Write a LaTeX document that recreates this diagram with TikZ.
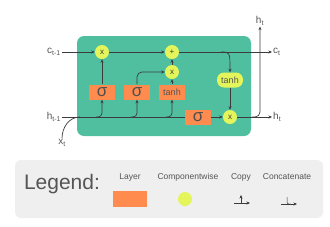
\documentclass[tikz,border=0pt]{standalone}
\usepackage{fontspec}
\setmainfont{Liberation Sans}
\usepackage{xcolor}
\definecolor{lstmTeal}{HTML}{4FBF9F}
\definecolor{lstmOrange}{HTML}{FF8B4E}
\definecolor{lstmYellow}{HTML}{E3F55A}
\definecolor{lstmLine}{HTML}{3C3C3C}
\definecolor{lstmText}{HTML}{555555}
\definecolor{lstmLegend}{HTML}{EFEFEF}
\usetikzlibrary{positioning,arrows.meta,calc}

\begin{document}
\begin{tikzpicture}[
      x=1pt, y=-1pt,
      every node/.style={text=lstmText},
      cell/.style={rectangle, rounded corners=7pt, fill=lstmTeal,
                   minimum width=174pt, minimum height=100pt},
      layer/.style={rectangle, fill=lstmOrange, inner sep=0pt,
                    minimum width=26pt, minimum height=15pt, font=\fontsize{9}{9}\selectfont},
      sig/.style={layer, font=\fontsize{17}{17}\selectfont, text=lstmLine!90},
      pw/.style={circle, fill=lstmYellow, inner sep=0pt, minimum size=14pt,
                 font=\fontsize{8}{8}\selectfont, text=lstmLine},
      pwlong/.style={rectangle, rounded corners=7pt, fill=lstmYellow, inner sep=0pt,
                     minimum width=26pt, minimum height=15pt, font=\fontsize{9}{9}\selectfont},
      lbl/.style={font=\fontsize{8.5}{8.5}\selectfont, inner sep=1pt},
      io/.style={font=\fontsize{10}{10}\selectfont, inner sep=1pt},
      arrow/.style={-{Stealth[length=3.5pt,width=3pt]}, line width=0.7pt, lstmLine},
      wire/.style={line width=0.7pt, lstmLine}
    ]
    \useasboundingbox (0,0) rectangle (330,226);
    \node[cell] (cell) at (164,86) {};

    \node[pw] (fmul) at (102,52) {x};
    \node[pw] (add) at (172,52) {+};
    \node[pw] (imul) at (172,72) {x};
    \node[sig] (fgate) at (102,92) {σ};
    \node[sig] (igate) at (137,92) {σ};
    \node[layer] (cand) at (172,92) {tanh};
    \node[sig] (ogate) at (198,117) {σ};
    \node[pwlong] (ctanh) at (230,80) {tanh};
    \node[pw] (omul) at (230,117) {x};

    \node[io] (cprev) at (54,52) {c\textsubscript{t-1}};
    \node[io] (hprev) at (54,117) {h\textsubscript{t-1}};
    \node[io] (xt) at (62,143) {x\textsubscript{t}};
    \node[io, anchor=west] (ct) at (272,52) {c\textsubscript{t}};
    \node[io, anchor=west] (ht) at (272,117) {h\textsubscript{t}};
    \node[io] (htup) at (260,21) {h\textsubscript{t}};

    \coordinate (join) at (80,117);
    \coordinate (cbr) at (221,52);
    \coordinate (hbr) at (252,117);

    \draw[arrow] (cprev) -- (fmul);
    \draw[arrow] (fmul) -- (add);
    \draw[arrow] (add) -- (ct);
    \draw[arrow] (cbr) .. controls (230,52) .. (ctanh.north);
    \draw[arrow] (ctanh) -- (omul);

    \draw[wire] (hprev) -- (ogate);
    \draw[wire] (xt.north) to[out=90,in=180] (join);
    \draw[arrow, rounded corners=4pt] ($(fgate.south|-hprev)+(-6,0)$) -| (fgate.south);
    \draw[arrow, rounded corners=4pt] ($(igate.south|-hprev)+(-6,0)$) -| (igate.south);
    \draw[arrow, rounded corners=4pt] ($(cand.south|-hprev)+(-6,0)$) -| (cand.south);
    \draw[arrow] (fgate) -- (fmul);
    \draw[arrow, rounded corners=5pt] (igate.north) |- (imul.west);
    \draw[arrow] (cand) -- (imul);
    \draw[arrow] (imul) -- (add);
    \draw[arrow] (ogate) -- (omul);
    \draw[arrow] (omul) -- (ht);
    \draw[arrow, rounded corners=5pt] (hbr) -| (htup.south);

    % legend
    \node[rectangle, rounded corners=6pt, fill=lstmLegend, minimum width=308pt,
          minimum height=58pt] (legend) at (169,189) {};
    \node[font=\fontsize{21}{21}\selectfont] (legtitle) at (62,184) {Legend:};
    \node[lbl] (laylbl) at (130,177) {Layer};
    \node[lbl] (pwlbl) at (188,177) {Componentwise};
    \node[lbl] (copylbl) at (241,177) {Copy};
    \node[lbl] (catlbl) at (287,177) {Concatenate};
    \node[layer, minimum width=34pt, minimum height=16pt] (laybox) at (130,199) {};
    \node[pw] (pwdot) at (185,199) {};
    \coordinate (cpl) at (234,203);
    \coordinate (cpr) at (250,203);
    \coordinate (cpm) at (241,203);
    \coordinate (cpt) at (241,195);
    \draw[arrow, line width=0.5pt] (cpl) -- (cpr);
    \draw[arrow, line width=0.5pt] (cpm) -- (cpt);
    \coordinate (ctl) at (281,204);
    \coordinate (ctr) at (297,204);
    \coordinate (ctt) at (287,197);
    \draw[arrow, line width=0.5pt] (ctl) -- (ctr);
    \draw[wire, line width=0.5pt, rounded corners=2pt] (ctt) |- ($(ctt|-ctl)+(4,0)$);
  \end{tikzpicture}
\end{document}
